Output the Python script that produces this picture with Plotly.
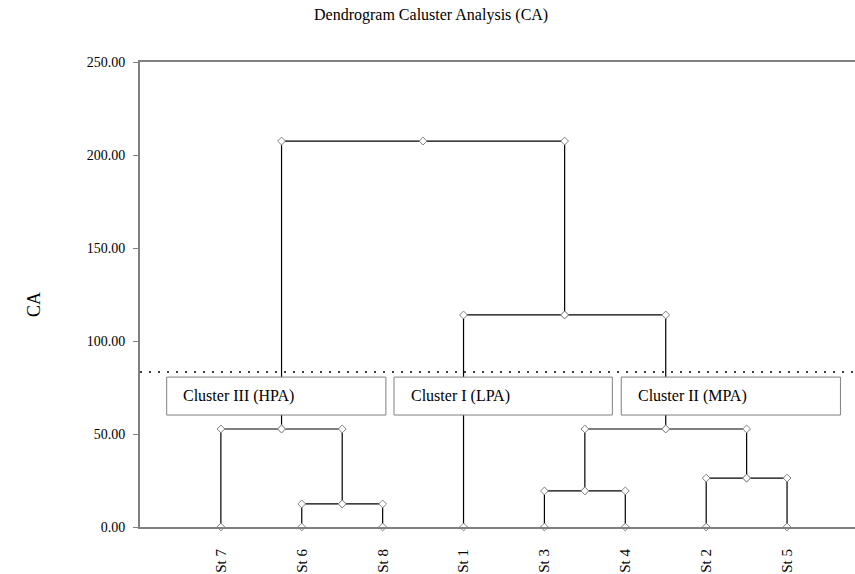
import plotly.graph_objects as go

leaves = ["St 7", "St 6", "St 8", "St 1", "St 3", "St 4", "St 2", "St 5"]
link_a = ["St 6", "St 3", "St 2", "St 7", "M2", "St 1", "M4"]
link_b = ["St 8", "St 4", "St 5", "M1", "M3", "M5", "M6"]
link_h = [12.4, 19.4, 26.3, 52.7, 52.7, 114.0, 207.5]
cut_level = 83.3
cluster_names = ["Cluster III (HPA)", "Cluster I (LPA)", "Cluster II (MPA)"]
y_ticks = [0, 50, 100, 150, 200, 250]

pos = {n: (i + 1, 0.0) for i, n in enumerate(leaves)}
lx, ly, mx, my = [], [], [], []
for k, (a, b, h) in enumerate(zip(link_a, link_b, link_h)):
    xa, ya = pos[a]
    xb, yb = pos[b]
    xm = (xa + xb) / 2
    pos[f"M{k+1}"] = (xm, h)
    lx += [xa, xa, xb, xb, None]
    ly += [ya, h, h, yb, None]
    mx += [xa, xa, xm, xb, xb]
    my += [ya, h, h, h, yb]

FONT = "Liberation Serif, Times New Roman, serif"
fig = go.Figure()
fig.add_trace(go.Scatter(x=lx, y=ly, mode="lines", line=dict(color="black", width=1.2),
                         hoverinfo="skip", showlegend=False))
fig.add_trace(go.Scatter(x=mx, y=my, mode="markers",
                         marker=dict(symbol="diamond", size=6, color="white",
                                     line=dict(color="#808080", width=1)),
                         showlegend=False, cliponaxis=False))

# cut line
fig.add_shape(type="line", xref="paper", x0=0, x1=1, y0=cut_level, y1=cut_level,
              line=dict(color="black", width=1.5, dash="2px,7px"), layer="above")

boxes = [(0.33, 3.04), (3.14, 5.84), (5.95, 8.66)]
for (x0, x1), name in zip(boxes, cluster_names):
    fig.add_shape(type="rect", x0=x0, x1=x1, y0=60.2, y1=80.6,
                  fillcolor="white", line=dict(color="#808080", width=1), layer="above")
    fig.add_annotation(x=x0 + 0.18, y=70.4, text=name, showarrow=False, xanchor="left",
                       font=dict(family=FONT, size=16, color="black"))

fig.add_annotation(xref="paper", yref="paper", x=(22 - 140) / 715, y=(527 - 305) / 465,
                   text="CA", textangle=-90, showarrow=False,
                   font=dict(family=FONT, size=18, color="black"))
fig.add_annotation(xref="paper", yref="paper", x=(431 - 140) / 715,
                   y=1 + (62 - 15) / 465, yanchor="middle", xanchor="center",
                   text="Dendrogram Caluster Analysis (CA)", showarrow=False,
                   font=dict(family=FONT, size=16, color="black"))

fig.update_layout(
    width=855, height=574,
    margin=dict(l=140, r=0, t=62, b=47),
    paper_bgcolor="white", plot_bgcolor="white",
    font=dict(family=FONT, size=14, color="black"),
)
fig.update_xaxes(range=[0, 8.84], tickvals=list(range(1, 9)), ticktext=leaves,
                 tickangle=-90, showgrid=False, zeroline=False, showline=True,
                 linecolor="#808080", linewidth=2, mirror=True, ticks="",
                 automargin=False, ticklabelstandoff=14,
                 tickfont=dict(family=FONT, size=15, color="black"))
fig.update_yaxes(range=[0, 250], tickvals=y_ticks, tickformat=".2f", showgrid=False,
                 zeroline=False, showline=True, linecolor="#808080", linewidth=2,
                 ticks="outside", ticklen=5, tickcolor="#808080", tickwidth=1,
                 automargin=False, ticklabelstandoff=5,
                 tickfont=dict(family=FONT, size=14, color="black"))
fig.write_html("out.html", config={"displayModeBar": False},
               post_script="document.body.style.margin='0';document.body.style.overflow='hidden';")
